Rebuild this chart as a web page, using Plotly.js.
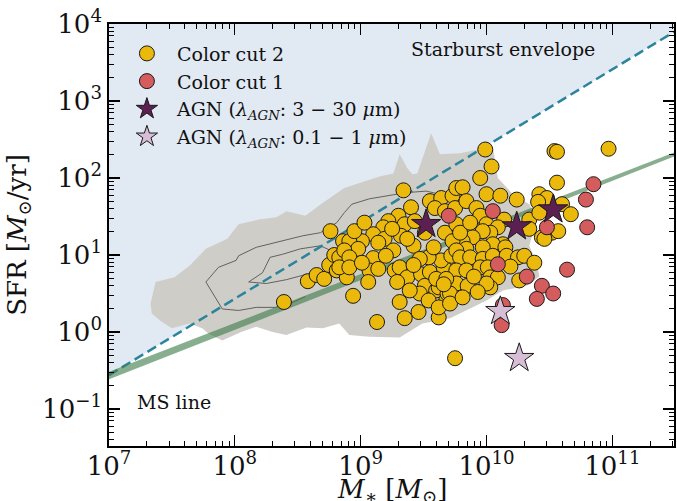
<!DOCTYPE html>
<html><head><meta charset="utf-8">
<script src="https://cdn.plot.ly/plotly-3.0.1.min.js"></script>
<style>html,body{margin:0;padding:0;background:#fff}#chart{width:677px;height:501px}</style>
</head><body><div id="chart"></div>
<script>
// ---- data (log10 stellar mass [Msun], log10 SFR [Msun/yr]) ----
const cc2LogMass = [8.39,8.58,8.65,8.71,8.75,8.76,8.79,8.83,8.81,8.86,8.89,8.94,9.34,9.40,9.30,9.22,9.35,9.43,9.18,9.10,
  9.01,8.91,9.19,9.14,9.32,9.42,9.26,8.98,8.87,8.91,9.10,8.83,8.91,9.07,9.14,9.27,9.31,9.37,9.29,9.06,
  9.48,9.51,9.47,9.31,9.46,9.35,9.13,9.62,9.60,9.62,9.68,9.69,9.54,9.62,9.55,9.66,9.64,9.54,9.58,9.67,
  9.72,9.55,9.64,9.59,9.67,9.73,9.75,9.76,9.81,9.84,9.92,9.95,9.95,9.99,10.04,10.00,10.11,10.24,10.42,10.48,
  10.41,10.56,10.54,10.56,10.97,9.76,10.00,10.14,10.34,10.34,10.09,10.03,9.97,9.89,9.81,9.73,10.13,10.05,9.97,9.84,
  9.76,9.79,9.87,9.97,10.05,10.15,10.16,10.25,10.30,10.38,9.76,9.84,9.95,10.01,10.03,10.09,10.26,9.76,9.85,10.03,
  9.71,9.71,10.44,10.52,10.42,10.60,10.67,10.57,10.46,9.75,10.00,9.25,9.37,9.47,9.42,9.20,9.01,9.51,9.79,9.87,
  9.90,10.19,9.60,9.68,9.39,8.95,9.03,9.81,9.93,9.66];
const cc2LogSFR = [0.39,0.66,0.74,0.69,0.87,1.31,1.00,0.97,0.80,1.18,0.71,0.47,1.84,1.62,1.51,1.44,1.40,1.44,1.36,1.27,
  1.18,1.18,1.21,1.16,1.25,1.12,1.06,1.08,1.06,0.97,0.96,0.84,0.84,0.80,0.82,0.80,0.84,0.71,0.65,0.65,
  0.75,0.60,0.50,0.39,0.26,0.18,0.13,0.19,0.54,0.58,0.41,0.50,0.41,0.32,0.78,0.84,0.93,0.97,1.10,1.29,
  0.99,1.70,1.74,1.61,1.57,1.77,1.61,1.87,1.88,1.70,1.61,1.51,2.00,2.37,2.15,1.79,1.77,1.72,1.79,1.74,
  1.69,1.94,2.35,2.34,2.38,1.40,1.40,1.46,1.46,1.34,1.36,1.29,1.31,1.23,1.18,1.18,1.14,1.14,1.10,1.08,
  1.06,0.97,0.97,0.95,0.99,1.10,0.99,0.97,0.99,0.90,0.80,0.80,0.84,0.84,0.71,0.71,0.67,0.63,0.60,0.58,
  0.50,0.37,1.23,1.29,1.55,1.66,1.53,1.31,1.21,-0.34,0.63,1.34,1.21,0.95,0.87,0.99,0.90,1.29,1.29,1.42,
  0.72,0.85,0.69,0.69,0.54,1.31,1.42,0.45,0.52,0.62];
const cc1LogMass = [9.70,10.05,10.09,10.32,10.44,10.40,10.53,10.64,10.85,10.79,10.80,10.48,10.13,10.12];
const cc1LogSFR  = [1.51,1.57,0.88,0.72,0.60,0.43,0.50,0.81,1.92,1.72,1.36,1.36,0.35,0.09];
const agnIRLogMass = [9.52,10.24,10.53];
const agnIRLogSFR  = [1.40,1.37,1.59];
const agnOptLogMass = [10.11,10.26];
const agnOptLogSFR  = [0.27,-0.34];

// comparison sample: filled region and two contour levels
const grayLogMass = [7.33,7.37,7.52,7.64,7.77,7.94,8.03,8.19,8.33,8.41,8.56,8.70,8.87,9.15,9.26,9.31,9.37,9.41,9.45,9.56,
  9.63,9.79,10.05,10.09,10.21,10.34,10.40,10.37,10.34,10.40,10.42,10.32,10.13,10.00,9.71,9.49,9.31,9.07,8.91,8.83,
  8.70,8.57,8.41,8.30,8.17,8.05,7.90,7.79,7.74,7.64,7.50,7.42,7.34];
const grayLogSFR = [0.37,0.65,0.71,0.86,1.08,1.21,1.40,1.46,1.49,1.57,1.51,1.68,1.87,2.02,2.06,2.31,2.13,2.05,2.06,2.58,
  2.31,2.32,2.41,2.00,1.79,1.66,1.48,1.29,1.12,0.90,0.72,0.60,0.54,0.41,0.18,0.11,-0.07,-0.06,-0.04,0.11,
  0.05,0.06,-0.04,0.00,0.07,0.00,-0.11,-0.02,0.05,0.11,0.05,0.13,0.24];
const outerLogMass = [8.56,8.44,8.32,8.17,8.03,7.90,7.77,7.87,8.01,8.03,8.17,8.38,8.54,8.68,8.81,8.87,8.93,9.07,9.23,9.36,9.52,9.63];
const outerLogSFR  = [0.46,0.37,0.32,0.32,0.28,0.30,0.65,0.84,0.93,0.99,1.10,1.18,1.25,1.29,1.42,1.55,1.66,1.73,1.77,1.81,1.83,1.79];
const innerLogMass = [8.57,8.41,8.25,8.11,8.22,8.28,8.38,8.52,8.68,8.76];
const innerLogSFR  = [0.75,0.68,0.63,0.65,0.77,0.97,1.01,1.08,1.12,1.06];

// relations (end points)
const relMass = [1e7, 3.09e11];
const starburstSFR = [0.275, 7900];
const msUpperSFR = [0.305, 214];
const msLowerSFR = [0.243, 190];
const sfrTop = 1e4;

const tickMass = [1e7,1e8,1e9,1e10,1e11];
const tickMassText = ['10<sup>7</sup>','10<sup>8</sup>','10<sup>9</sup>','10<sup>10</sup>','10<sup>11</sup>'];
const tickSFR = [0.1,1,10,100,1000,10000];
const tickSFRText = ['10<sup>−1</sup>','10<sup>0</sup>','10<sup>1</sup>','10<sup>2</sup>','10<sup>3</sup>','10<sup>4</sup>'];

// ---- build ----
const p10 = a => a.map(v => Math.pow(10, v));
function minors(lo, hi){ const out=[]; for(let e=lo;e<=hi;e++){ for(let k=2;k<=9;k++) out.push(k*Math.pow(10,e)); } return out; }

const FONT = 'DejaVu Serif, serif';
const traces = [
  {x:[relMass[0],relMass[1],relMass[1],relMass[0]], y:[starburstSFR[0],starburstSFR[1],sfrTop,sfrTop],
   mode:'lines', fill:'toself', fillcolor:'#e1e9f3', line:{width:0}, showlegend:false, hoverinfo:'skip'},
  {x:p10(grayLogMass), y:p10(grayLogSFR), mode:'lines', fill:'toself', fillcolor:'#cfcdc8',
   line:{width:0}, showlegend:false, hoverinfo:'skip'},
  {x:p10(outerLogMass), y:p10(outerLogSFR), mode:'lines', line:{color:'#555', width:0.9}, showlegend:false, hoverinfo:'skip'},
  {x:p10(innerLogMass), y:p10(innerLogSFR), mode:'lines', line:{color:'#555', width:0.9}, showlegend:false, hoverinfo:'skip'},
  {x:relMass, y:starburstSFR, mode:'lines', line:{color:'#2b849c', width:2.5, dash:'10px,5px'}, showlegend:false, hoverinfo:'skip'},
  {x:[relMass[0],relMass[1],relMass[1],relMass[0]], y:[msLowerSFR[0],msLowerSFR[1],msUpperSFR[1],msUpperSFR[0]],
   mode:'lines', fill:'toself', fillcolor:'rgba(62,125,75,0.62)', line:{width:0}, showlegend:false, hoverinfo:'skip'},
  {x:p10(cc2LogMass), y:p10(cc2LogSFR), mode:'markers', name:'Color cut 2',
   marker:{size:15, color:'#ebb90c', line:{color:'#1a1a1a', width:1}}},
  {x:p10(cc1LogMass), y:p10(cc1LogSFR), mode:'markers', name:'Color cut 1',
   marker:{size:15, color:'#d55c5c', line:{color:'#1a1a1a', width:1}}},
  {x:p10(agnIRLogMass), y:p10(agnIRLogSFR), mode:'markers', name:'AGN (<i>λ</i><sub><i>AGN</i></sub>: 3 − 30 <i>μ</i>m)',
   marker:{size:22, symbol:'star', color:'#5c1f52', line:{color:'#1a1a1a', width:1}}},
  {x:p10(agnOptLogMass), y:p10(agnOptLogSFR), mode:'markers', name:'AGN (<i>λ</i><sub><i>AGN</i></sub>: 0.1 − 1 <i>μ</i>m)',
   marker:{size:22, symbol:'star', color:'#d8bdd6', line:{color:'#1a1a1a', width:1}}}
];

const axisCommon = {
  type:'log', showgrid:false, zeroline:false, showline:true, linecolor:'#000', linewidth:1.8,
  mirror:'allticks', ticks:'inside', ticklen:11, tickwidth:1.3, tickcolor:'#000',
  tickmode:'array', tickfont:{family:FONT, size:26, color:'#111'}
};

const layout = {
  width:677, height:501, margin:{l:109, r:3, t:24, b:55},
  paper_bgcolor:'#fff', plot_bgcolor:'#fff',
  font:{family:FONT, color:'#111'},
  xaxis:Object.assign({}, axisCommon, {
    range:[7, Math.log10(relMass[1])], tickvals:tickMass, ticktext:tickMassText,
    minor:{tickmode:'array', tickvals:minors(7,11), ticks:'inside', ticklen:5, tickwidth:1, tickcolor:'#000'},
    ticklabelstandoff:-4, automargin:false
  }),
  yaxis:Object.assign({}, axisCommon, {
    range:[-1.48, 4], tickvals:tickSFR, ticktext:tickSFRText,
    minor:{tickmode:'array', tickvals:minors(-2,3), ticks:'inside', ticklen:5, tickwidth:1, tickcolor:'#000'},
    title:{text:'SFR [<i>M</i><sub>⊙</sub>/yr]', font:{family:FONT, size:26, color:'#111'}, standoff:8},
    automargin:false
  }),
  legend:{x:0.014, y:0.975, xanchor:'left', yanchor:'top', bgcolor:'rgba(0,0,0,0)',
    font:{family:FONT, size:19, color:'#111'}, itemsizing:'trace', itemwidth:50, tracegroupgap:0},
  annotations:[
    {xref:'paper', yref:'paper', x:0.5, y:-0.062, text:'<i>M</i><sub>∗</sub> [<i>M</i><sub>⊙</sub>]', showarrow:false,
     font:{family:FONT, size:26, color:'#111'}, xanchor:'center', yanchor:'top'},
    {xref:'paper', yref:'paper', x:0.697, y:0.94, text:'Starburst envelope', showarrow:false,
     font:{family:FONT, size:19, color:'#111'}, xanchor:'center', yanchor:'middle'},
    {xref:'paper', yref:'paper', x:0.046, y:0.105, text:'MS line', showarrow:false,
     font:{family:FONT, size:19, color:'#111'}, xanchor:'left', yanchor:'middle'}
  ]
};

Plotly.newPlot('chart', traces, layout, {displayModeBar:false, staticPlot:true});
</script>
</body></html>
